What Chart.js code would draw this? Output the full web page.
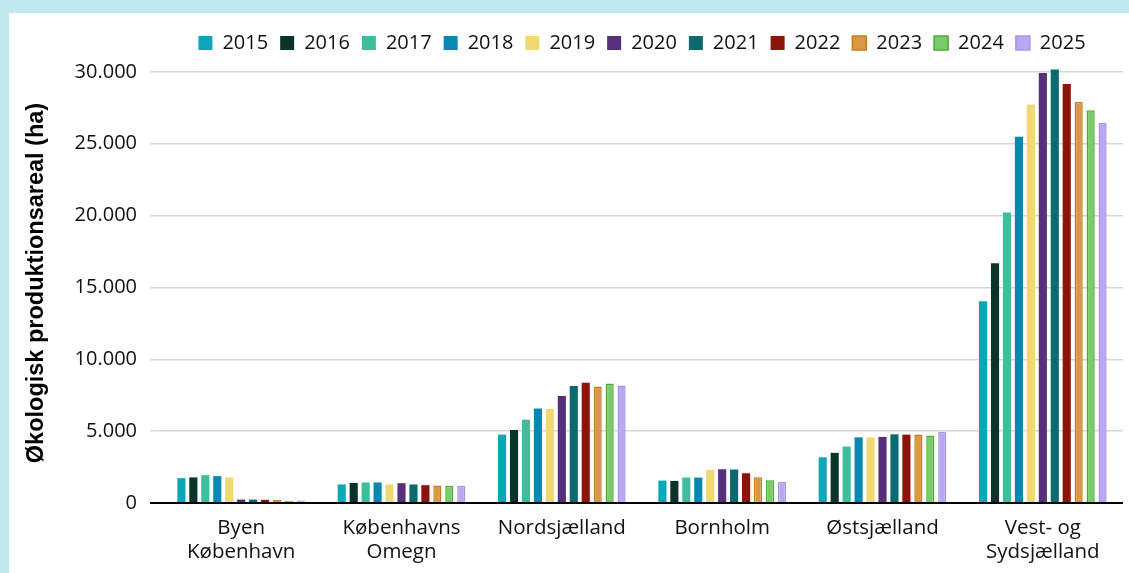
<!DOCTYPE html>
<html>
<head>
<meta charset="utf-8">
<script src="https://cdn.jsdelivr.net/npm/chart.js@4"></script>
<style>
  html, body { margin: 0; padding: 0; overflow: hidden; background: #bfe8ee; }
  #panel { position: absolute; left: 9px; top: 13px; width: 1120px; height: 560px; background: #fff; }
</style>
</head>
<body>
<div id="panel"><canvas id="chart"></canvas></div>
<script>
  // regions (x axis)
  const regions = [
    ['Byen', 'København'],
    ['Københavns', 'Omegn'],
    'Nordsjælland',
    'Bornholm',
    'Østsjælland',
    ['Vest- og', 'Sydsjælland']
  ];

  const years = ['2015', '2016', '2017', '2018', '2019', '2020', '2021', '2022', '2023', '2024', '2025'];

  // hectares per region, one array per year
  const y2015 = [1730, 1290, 4760, 1560, 3180, 14040];
  const y2016 = [1780, 1400, 5080, 1540, 3490, 16690];
  const y2017 = [1940, 1430, 5800, 1770, 3930, 20220];
  const y2018 = [1870, 1430, 6570, 1770, 4570, 25490];
  const y2019 = [1780, 1290, 6550, 2300, 4570, 27740];
  const y2020 = [240, 1380, 7450, 2350, 4600, 29920];
  const y2021 = [240, 1290, 8150, 2330, 4780, 30160];
  const y2022 = [220, 1240, 8360, 2070, 4760, 29150];
  const y2023 = [220, 1220, 8100, 1790, 4760, 27900];
  const y2024 = [150, 1200, 8310, 1580, 4690, 27340];
  const y2025 = [170, 1200, 8170, 1470, 4950, 26440];

  const yTicks = [0, 5000, 10000, 15000, 20000, 25000, 30000];

  const series = [y2015, y2016, y2017, y2018, y2019, y2020, y2021, y2022, y2023, y2024, y2025];
  const fills = ['#0aa7b9', '#0b3329', '#3cbf9d', '#0a87b1', '#f0d972', '#56307b', '#0b6a70', '#8b1509', '#d9993f', '#7ccb6a', '#b9a7f2'];
  const borders = ['#0aa7b9', '#0b3329', '#3cbf9d', '#0a87b1', '#f0d972', '#56307b', '#0b6a70', '#8b1509', '#c47d22', '#4fa93c', '#a995ea'];

  const fmt = v => String(v).replace(/\B(?=(\d{3})+(?!\d))/g, '.');

  const datasets = years.map((yr, i) => ({
    label: yr,
    data: series[i],
    backgroundColor: fills[i],
    borderColor: borders[i],
    borderWidth: i >= 8 ? 1.5 : 0,
    categoryPercentage: 0.82,
    barPercentage: 0.68
  }));

  const ctx = document.getElementById('chart').getContext('2d');

  new Chart(ctx, {
    type: 'bar',
    data: { labels: regions, datasets: datasets },
    options: {
      responsive: true,
      maintainAspectRatio: false,
      animation: false,
      layout: { padding: { left: 13, right: 6, top: 8, bottom: 0 } },
      plugins: {
        legend: {
          position: 'top',
          fullSize: false,
          labels: {
            boxWidth: 14,
            boxHeight: 14,
            padding: 12,
            color: '#111',
            font: { family: 'Open Sans', size: 20 }
          }
        },
        tooltip: { enabled: false }
      },
      scales: {
        x: {
          grid: { display: false },
          border: { display: false },
          afterFit: scale => { scale.height = 70; },
          ticks: {
            color: '#111',
            padding: 5,
            maxRotation: 0,
            autoSkip: false,
            font: { family: 'Open Sans', size: 20.5, lineHeight: 1.18 }
          }
        },
        y: {
          min: 0,
          max: 30620,
          afterBuildTicks: axis => {
            axis.ticks = yTicks.map(v => ({ value: v }));
          },
          afterFit: scale => { scale.width = 139; },
          border: { display: false },
          grid: {
            tickLength: 11,
            color: c => c.tick && c.tick.value === 0 ? '#000' : '#d6d6d6',
            lineWidth: c => c.tick && c.tick.value === 0 ? 2 : 1.5
          },
          ticks: {
            color: '#111',
            padding: 13,
            font: { family: 'Open Sans', size: 20 },
            callback: v => fmt(v)
          },
          title: {
            display: true,
            text: 'Økologisk produktionsareal (ha)',
            color: '#000',
            padding: { top: 0, bottom: 0 },
            font: { family: 'Liberation Sans', size: 23.5, weight: 'bold' }
          }
        }
      }
    }
  });
</script>
</body>
</html>
